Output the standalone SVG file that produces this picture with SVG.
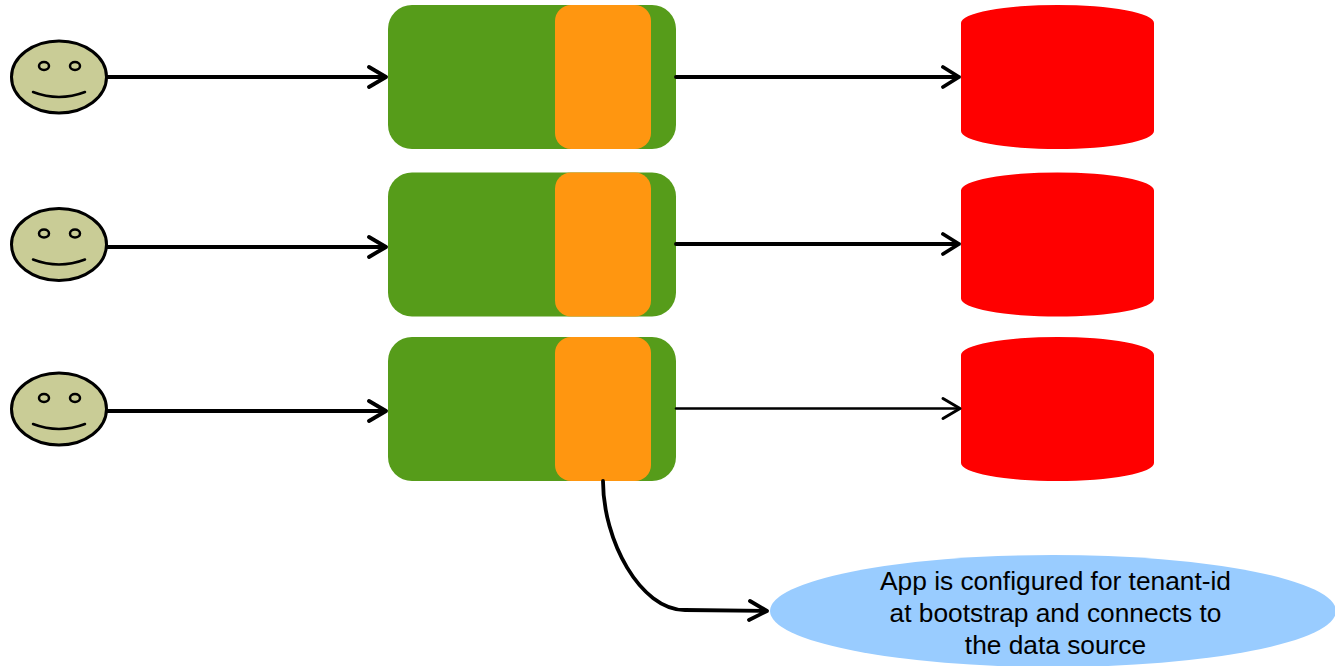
<svg xmlns="http://www.w3.org/2000/svg" width="1335" height="666" viewBox="0 0 1335 666">
<style>
.face{fill:#c9cc96;stroke:#000;stroke-width:3}
.eye{fill:#c9cc96;stroke:#000;stroke-width:2.500}
.smile{fill:none;stroke:#000;stroke-width:2.500;stroke-linecap:round}
.app{fill:#569c1a}
.tenant{fill:#ff9610}
.db{fill:#ff0000}
.conn{fill:none;stroke:#000;stroke-width:3.800;stroke-linecap:round;stroke-linejoin:round}
.thin{stroke-width:2.400}
.thinhead{stroke-width:3}
.lbl{font-family:"Liberation Sans",Arial,sans-serif;font-size:26.300px;fill:#000;text-anchor:middle}
</style>
<defs>
<g id="user">
<ellipse class="face" cx="59" cy="77" rx="47.500" ry="36"/>
<ellipse class="eye" cx="44" cy="66" rx="5" ry="4"/>
<ellipse class="eye" cx="75" cy="66" rx="5" ry="4"/>
<path class="smile" d="M33 92Q59 102 85 92"/>
</g>
<g id="server">
<rect class="app" x="388" y="5" width="288" height="144" rx="24"/>
<rect class="tenant" x="555" y="5" width="96" height="144" rx="16"/>
</g>
<path id="cyl" class="db" d="M961 23A96.500 18 0 0 1 1154 23V131A96.500 18 0 0 1 961 131Z"/>
</defs>
<g id="user1"><use href="#user"/></g>
<g id="user2"><use href="#user" y="167.500"/></g>
<g id="user3"><use href="#user" y="332"/></g>
<g id="app1"><use href="#server"/></g>
<g id="app2"><use href="#server" y="167.500"/></g>
<g id="app3"><use href="#server" y="332"/></g>
<g id="db1"><use href="#cyl"/></g>
<g id="db2"><use href="#cyl" y="167.500"/></g>
<g id="db3"><use href="#cyl" y="332"/></g>
<g id="note">
<ellipse cx="1053" cy="611" rx="283" ry="56" fill="#99ccff"/>
<text class="lbl" x="1055.500" y="589.500">App is configured for tenant-id</text>
<text class="lbl" x="1055.500" y="621.500">at bootstrap and connects to</text>
<text class="lbl" x="1055.500" y="653.500">the data source</text>
</g>
<g id="connectors">
<path class="conn" d="M107 77H386M369 67L386 77L369 87"/>
<path class="conn" d="M107 247H386M369 237L386 247L369 257"/>
<path class="conn" d="M107 411H386M369 401L386 411L369 421"/>
<path class="conn" d="M676 77H959M943 67L959 77L943 87"/>
<path class="conn" d="M676 244H959M943 234L959 244L943 254"/>
<path class="conn thin" d="M676 408.500H959"/>
<path class="conn thinhead" d="M943 398.500L960 408.500L943 418.500"/>
<path class="conn" d="M603 481C603 540 640 610 685 610L767 611M750 601L767 611L749 620"/>
</g>
</svg>
